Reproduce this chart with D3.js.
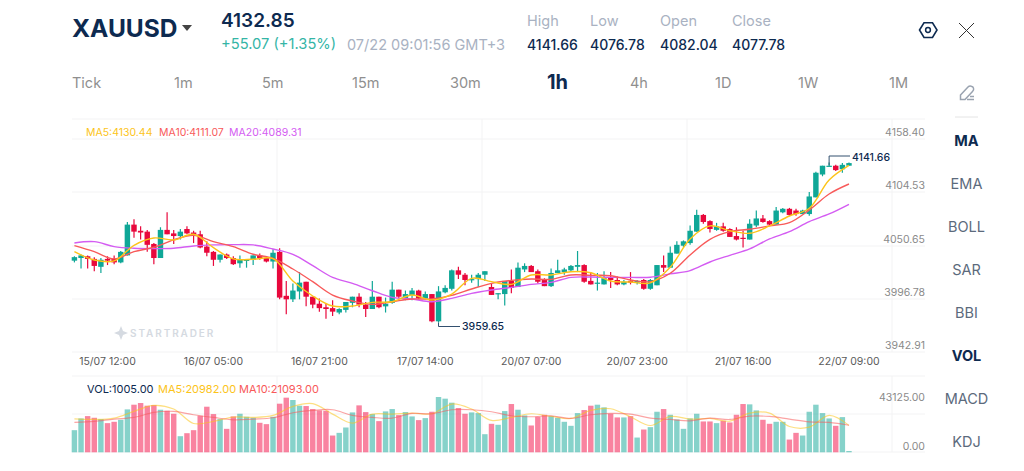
<!DOCTYPE html>
<html>
<head>
<meta charset="utf-8">
<script src="https://d3js.org/d3.v7.min.js"></script>
<style>
  html, body { margin: 0; padding: 0; background: #fff; }
  svg { display: block; }
  text { font-family: Inter, "Noto Sans", sans-serif; }
</style>
</head>
<body>
<div id="chart"></div>
<script>
// candles, one per hour
const opens = [4030,4033,4035,4032,4023,4032,4032,4028,4036,4071,4064,4063,4049,4033,4065,4061,4058,4066,4062,4060,
  4046,4040,4031,4037,4033,4027,4030,4031,4036,4033,4029,4040,3990,3986,3995,4006,3989,3981,3977,3976,
  3971,3974,3982,3989,3980,3975,3989,3978,3982,3997,3986,3991,3996,3987,3992,3961,3994,3998,4019,4014,
  4008,4009,4014,4000,3992,3992,4007,4000,4020,4024,4018,4008,4001,4016,4017,4019,4023,4025,4007,4004,
  4003,4011,4008,4003,4007,4005,4008,3998,4002,4025,4022,4038,4047,4050,4063,4082,4075,4065,4069,4066,
  4058,4056,4054,4070,4078,4075,4071,4085,4089,4087,4083,4083,4102,4128,4137,4138,4134,4138];
const closes = [4034,4036,4032,4024,4031,4030,4028,4040,4071,4063,4062,4048,4033,4065,4060,4058,4063,4061,4059,4045,
  4039,4031,4037,4033,4026,4031,4031,4036,4033,4029,4039,3988,3986,3996,4005,3989,3980,3976,3975,3972,
  3975,3983,3989,3980,3975,3989,3977,3981,3997,3989,3992,3996,3987,3992,3961,3995,3999,4019,4014,4008,
  4009,4014,4018,3991,3993,4007,3999,4022,4024,4017,4006,4001,4016,4019,4020,4024,4025,4006,4003,4005,
  4010,4008,4003,4006,4005,4007,3998,4008,4025,4022,4039,4048,4052,4064,4082,4074,4066,4069,4064,4057,
  4054,4055,4072,4078,4074,4071,4087,4089,4082,4083,4087,4103,4130,4138,4138,4133,4139,4141];
const highs = [4035,4037,4036,4034,4033,4035,4036,4041,4074,4077,4069,4065,4050,4068,4085,4065,4066,4069,4064,4064,
  4052,4041,4037,4038,4035,4036,4031,4036,4038,4035,4043,4044,4007,4004,4017,4006,3989,3987,3981,3985,
  3976,3983,3989,3993,3983,4007,3989,3988,4006,3997,3996,3999,3997,3995,3992,4001,4002,4020,4023,4016,
  4014,4016,4018,4004,3993,4007,4020,4028,4027,4025,4020,4010,4021,4031,4022,4025,4041,4026,4017,4016,
  4018,4017,4012,4008,4017,4008,4009,4009,4025,4036,4046,4052,4053,4070,4088,4083,4076,4073,4073,4067,
  4068,4064,4077,4087,4082,4076,4091,4090,4090,4089,4088,4108,4131,4138,4141.66,4139,4141,4141.66];
const lows = [4028,4021,4021,4018,4016,4025,4026,4027,4036,4056,4054,4040,4026,4033,4060,4049,4054,4060,4050,4044,
  4035,4024,4028,4032,4025,4022,4022,4025,4031,4028,4021,3986,3969,3983,3986,3978,3976,3972,3964,3967,
  3969,3971,3977,3977,3966,3975,3976,3971,3981,3987,3985,3985,3986,3986,3960,3959.65,3993,3996,4009,4002,
  4005,4000,4007,3991,3986,3979,3993,4000,4017,4017,4004,4001,4000,4016,4014,4017,4017,4005,4003,3996,
  4003,3999,4002,4002,4003,4003,3997,3997,4002,4017,4022,4038,4045,4048,4063,4072,4062,4064,4063,4057,
  4053,4045,4054,4068,4073,4070,4071,4084,4081,4081,4083,4081,4102,4126,4137,4132,4130,4138];
const volumes = [17252,26401,28231,26924,25879,22742,23787,25356,33459,37119,38426,36335,36857,33198,32414,30061,12547,14900,17252,28493,
  35550,29800,25879,18298,27970,30061,27708,26924,23003,21958,27708,37903,42608,40778,36335,36073,33721,32675,32414,13070,
  15161,19344,31107,36596,31368,29800,24310,31891,33721,29015,31368,27970,25094,26663,31629,43125,41824,38687,34505,30061,
  31107,30584,14116,22219,21435,32152,37642,33198,28754,20912,27708,29277,28231,26924,23787,20651,30584,32936,36335,37119,
  35028,30061,27186,27186,28231,11502,17775,19605,31629,33721,29277,25617,18298,26401,30061,24049,24049,22742,24572,23265,
  29277,37642,37380,32675,25356,22219,23787,23787,9933,15161,13070,31629,37119,30584,26401,20651,27447,1005];

// moving averages read at every third candle
const maIndex = d3.range(0, 118, 3);
const ma5 = [4040.3,4030.8,4029.7,4047.5,4055.8,4053.6,4060,4044.8,4032,4031.6,4032.2,4006.8,3989.8,3978.4,3978.4,3982.6,3983.3,3990.9,3985.2,3992,
  4009.9,4006.1,4003,4013.7,4013.7,4017.4,4016.3,4006.8,4005.7,4004.7,4022.5,4054.7,4069.5,4064.2,4061.1,4069.5,4080.8,4089.6,4121.8,4138.4];
const ma10 = [4047.1,4040.3,4032,4040.3,4045.2,4053.6,4058.9,4051.6,4046,4037.3,4032.6,4020.5,4006.1,3990.9,3984.1,3980.3,3983.3,3986.4,3986.4,3990.5,
  3997.8,4004.2,4007.6,4009.1,4008.7,4013.7,4013.3,4012.9,4008,4006.2,4015.7,4036.5,4054.3,4063,4065.7,4069.5,4073.3,4087.7,4105.8,4117.2];
const ma20 = [4050.1,4051.6,4046,4044.1,4043.7,4044.1,4046.7,4047.9,4048.2,4047.9,4043.2,4037.2,4024.3,4011,4004.2,3995.8,3988.3,3986.4,3983.3,3987.1,
  3992.8,3996.6,3999.6,4003,4005.3,4011,4011.4,4011,4011,4011.1,4014.9,4018.7,4028.5,4036.1,4043.3,4054.7,4063,4074.4,4083.1,4094.1];
const volMa5 = [26140,25617,26663,31891,36596,33721,22480,24049,27447,27186,28754,35812,37903,29800,22742,29800,29800,30584,30061,37642,
  33721,24833,27186,30061,27970,26401,32675,33982,27708,20912,27970,25879,26401,24310,30584,30584,20128,19605,28754,20982];
const volMa10 = [23265,24049,25879,27186,31107,31891,29277,27186,25356,25879,26924,30845,32675,33198,28754,27186,26663,30322,30061,33198,
  33198,31629,28493,27708,28493,26401,29277,30322,29800,26663,25617,24572,26663,25617,28231,27970,25879,23787,23265,21093];

const priceTicks = ["4158.40", "4104.53", "4050.65", "3996.78", "3942.91"];
const volTicks = ["43125.00", "0.00"];
const timeIndex = [5, 21, 37, 53, 69, 85, 101, 117];
const timeLabels = ["15/07 12:00", "16/07 05:00", "16/07 21:00", "17/07 14:00", "20/07 07:00", "20/07 23:00", "21/07 16:00", "22/07 09:00"];
const periods = ["Tick", "1m", "5m", "15m", "30m", "1h", "4h", "1D", "1W", "1M"];
const periodX = [72, 174, 262, 352, 450, 547, 630, 715, 798, 889];
const indicators = ["MA", "EMA", "BOLL", "SAR", "BBI", "VOL", "MACD", "KDJ"];
const activeIndicators = ["MA", "VOL"];
const quoteHeads = ["High", "Low", "Open", "Close"];
const quoteValues = ["4141.66", "4076.78", "4082.04", "4077.78"];
const quoteX = [527, 590, 660, 732];

const green = "#0fa797", red = "#e8083c", navy = "#0d2a50";
const yellow = "#fcc419", orange = "#f85a5a", purple = "#d45cf2";

const svg = d3.select("#chart").append("svg").attr("width", 1024).attr("height", 471);

const label = (x, y, str, size, fill, weight, anchor) => svg.append("text")
  .attr("x", x).attr("y", y).attr("dominant-baseline", "central")
  .attr("text-anchor", anchor || "start")
  .attr("font-size", size).attr("font-weight", weight || 400).attr("fill", fill).text(str);

// scales
const x = d3.scaleBand().domain(d3.range(118)).range([71.7, 851.7]).paddingInner(0.18);
const cx = i => x(i) + x.bandwidth() / 2;
const y = d3.scaleLinear().domain([3959.65, 4141.66]).range([322.5, 162.5]);
const yv = d3.scaleLinear().domain([0, 43125]).range([452.3, 397]);
const priceAxisPos = d3.scalePoint().domain(priceTicks).range([139, 352]);
const volAxisPos = d3.scalePoint().domain(volTicks).range([403, 452.3]);

// grid
const gridColor = "#f3f3f4";
const hLines = [119, 139, 192, 246, 299, 352, 376, 414, 452];
svg.append("g").selectAll("line").data(hLines).join("line")
  .attr("x1", 72).attr("x2", 925).attr("y1", d => d).attr("y2", d => d).attr("stroke", gridColor);
[277, 482, 687, 892].forEach(vx => {
  svg.append("line").attr("x1", vx).attr("x2", vx).attr("y1", 119).attr("y2", 352).attr("stroke", gridColor);
  svg.append("line").attr("x1", vx).attr("x2", vx).attr("y1", 376).attr("y2", 452).attr("stroke", gridColor);
});

// header
label(72, 28, "XAUUSD", 24.5, navy, 700);
svg.append("path").attr("d", "M182 25H192L187 31Z").attr("fill", "#444");
label(221, 20, "4132.85", 19, navy, 600);
label(221, 44, "+55.07 (+1.35%)", 14.7, "#34b5a6");
label(347, 44, "07/22 09:01:56 GMT+3", 14.5, "#a9b2c2");
quoteHeads.forEach((d, i) => label(quoteX[i], 20, d, 14.5, "#a9b2c2"));
quoteValues.forEach((d, i) => label(quoteX[i], 44, d, 14, navy, 500));

// header icons
svg.append("path").attr("d", "M919.500 30L924 22.800H932.500L937 30L932.500 37.500H924Z")
  .attr("fill", "none").attr("stroke", navy).attr("stroke-width", 1.6);
svg.append("circle").attr("cx", 928).attr("cy", 30).attr("r", 2.4).attr("fill", "none").attr("stroke", navy).attr("stroke-width", 1.5);
svg.append("path").attr("d", "M959 23L974 38M974 23L959 38").attr("stroke", "#333").attr("fill", "none");
svg.append("path").attr("d", "M960.500 95L968 87C969.500 85.500 973 86 973.500 88C974 89.500 973.500 90.500 972.500 91.500L965 99.500H960.500Z M967 99.500H974M970 96.500H974")
  .attr("fill", "none").attr("stroke", "#9aa3b0").attr("stroke-width", 1.5);
svg.append("line").attr("x1", 955).attr("x2", 978).attr("y1", 117).attr("y2", 117).attr("stroke", "#e4e4e4");

// period tabs and indicator list
periods.forEach((d, i) => {
  if (d === "1h") label(periodX[i], 82, d, 20, navy, 700);
  else label(periodX[i], 82, d, 14.5, "#8f8f8f");
});
indicators.forEach((d, i) => {
  const on = activeIndicators.includes(d);
  label(966.5, 140.5 + i * 43, d, 14.5, on ? navy : "#5c6a7c", on ? 700 : 400, "middle");
});

// watermark
svg.append("path").attr("d", "M121 326L123 331L128 333L123 335L121 340L119 335L114 333L119 331Z").attr("fill", "#d5dae1");
label(130, 333, "STARTRADER", 10, "#d5dae1", 600).attr("letter-spacing", 1.9);

// price axis
const priceAxis = svg.append("g").attr("transform", "translate(925,0)")
  .call(d3.axisLeft(priceAxisPos).tickSize(0).tickPadding(0));
priceAxis.select(".domain").remove();
priceAxis.selectAll("text").attr("dy", -7 + 3.5).attr("font-size", 10.5).attr("fill", "#8a8a8a").style("font-family", "Inter");

const volAxis = svg.append("g").attr("transform", "translate(925,0)")
  .call(d3.axisLeft(volAxisPos).tickSize(0).tickPadding(0));
volAxis.select(".domain").remove();
volAxis.selectAll("text").attr("dy", -6 + 3.5).attr("font-size", 10.5).attr("fill", "#8a8a8a").style("font-family", "Inter");

// time axis
const timeAxis = svg.append("g").attr("transform", "translate(0,358)")
  .call(d3.axisBottom(x).tickValues(timeIndex).tickSize(0).tickPadding(0).tickFormat((d, i) => timeLabels[i]));
timeAxis.select(".domain").remove();
timeAxis.selectAll("text").attr("font-size", 10.5).attr("fill", "#5a5a5a").style("font-family", "Inter");

// volume bars
const rising = i => closes[i] >= opens[i];
svg.append("g").attr("opacity", 0.5).selectAll("rect").data(volumes).join("rect")
  .attr("x", (d, i) => x(i)).attr("width", x.bandwidth())
  .attr("y", d => yv(d)).attr("height", d => yv(0) - yv(d))
  .attr("fill", (d, i) => rising(i) ? green : "#f50a43");

const smooth = (scale, values) => d3.line()
  .x((d, i) => cx(maIndex[i])).y(d => scale(d)).curve(d3.curveCatmullRom.alpha(0.5))(values);

svg.append("path").attr("d", smooth(yv, volMa5)).attr("fill", "none").attr("stroke", yellow).attr("stroke-opacity", 0.55).attr("stroke-width", 1.2);
svg.append("path").attr("d", smooth(yv, volMa10)).attr("fill", "none").attr("stroke", orange).attr("stroke-opacity", 0.55).attr("stroke-width", 1.2);

// candles
const candles = svg.append("g");
candles.selectAll("line").data(opens).join("line")
  .attr("x1", (d, i) => cx(i)).attr("x2", (d, i) => cx(i))
  .attr("y1", (d, i) => y(highs[i])).attr("y2", (d, i) => y(lows[i]))
  .attr("stroke", (d, i) => rising(i) ? green : red).attr("stroke-width", 1.2);
candles.selectAll("rect").data(opens).join("rect")
  .attr("x", (d, i) => x(i)).attr("width", x.bandwidth())
  .attr("y", (d, i) => y(Math.max(d, closes[i])))
  .attr("height", (d, i) => Math.max(1.2, Math.abs(y(d) - y(closes[i]))))
  .attr("fill", (d, i) => rising(i) ? green : red);

// price moving averages
[[ma20, purple], [ma10, orange], [ma5, yellow]].forEach(([values, color]) => {
  svg.append("path").attr("d", smooth(y, values)).attr("fill", "none").attr("stroke", color).attr("stroke-width", 1.4);
});

// high and low markers
const leader = "#33506f";
const hiX = cx(114), hiY = y(4141.66) - 6.5;
svg.append("path").attr("d", `M${hiX} ${y(4138.4)}V${hiY}H850`).attr("fill", "none").attr("stroke", leader);
label(852, hiY + 1, "4141.66", 10.5, navy, 500);
const loX = cx(55), loY = y(3959.65) + 4;
svg.append("path").attr("d", `M${loX} ${y(3959.65)}V${loY}H460`).attr("fill", "none").attr("stroke", leader);
label(462, loY, "3959.65", 10.5, navy, 500);

// legends
label(86, 132, "MA5:4130.44", 10.5, yellow);
label(159, 132, "MA10:4111.07", 10.5, orange);
label(229, 132, "MA20:4089.31", 10.5, purple);
label(87, 389, "VOL:1005.00", 11, navy);
label(158, 389, "MA5:20982.00", 11, yellow);
label(239, 389, "MA10:21093.00", 11, orange);
</script>
</body>
</html>
